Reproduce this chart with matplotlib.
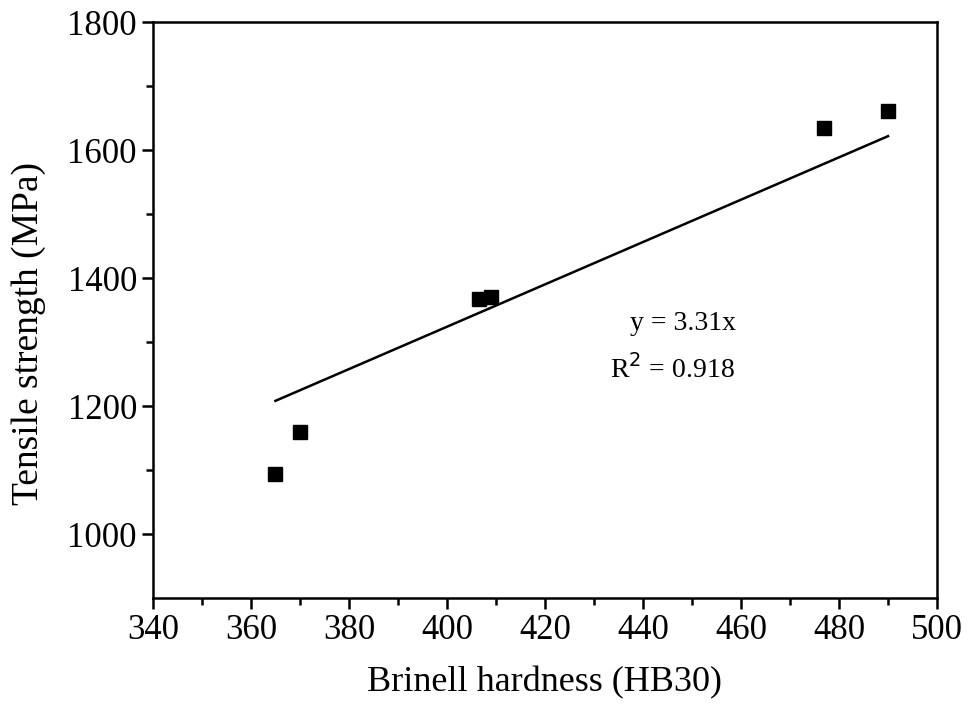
import matplotlib.pyplot as plt
import numpy as np

plt.rcParams['font.family'] = ['Liberation Serif', 'DejaVu Serif']

# measured samples
hardness = [365, 370, 406.5, 409, 477, 490]
strength = [1094, 1160, 1367, 1370, 1634, 1661]

slope = 3.31
r2 = 0.918

fig = plt.figure(figsize=(9.68, 7.17), dpi=100)
ax = fig.add_axes([0.158, 0.166, 0.81, 0.803])

ax.plot(hardness, strength, 's', color='black', markersize=10, zorder=3)

xfit = np.array([min(hardness), max(hardness)])
ax.plot(xfit, slope * xfit, color='black', linewidth=1.8, zorder=2)

ax.text(0.608, 0.465, f'y = {slope}x', transform=ax.transAxes, fontsize=20)
ax.text(0.583, 0.382, f'R$^2$ = {r2}', transform=ax.transAxes, fontsize=20)

ax.set_xlim(340, 500)
ax.set_ylim(900, 1800)
ax.set_xticks(np.arange(340, 501, 20))
ax.set_xticks(np.arange(350, 500, 20), minor=True)
ax.set_yticks(np.arange(1000, 1801, 200))
ax.set_yticks(np.arange(1100, 1800, 200), minor=True)

ax.tick_params(which='major', direction='out', length=8, width=1.8, labelsize=25)
ax.tick_params(which='minor', direction='out', length=5, width=1.8)
for s in ax.spines.values():
    s.set_linewidth(1.8)

ax.set_xlabel('Brinell hardness (HB30)', fontsize=26, labelpad=14)
ax.set_ylabel('Tensile strength (MPa)', fontsize=27)
ax.yaxis.set_label_coords(-0.136, 0.46)

fig.savefig('out.png', dpi=100)
